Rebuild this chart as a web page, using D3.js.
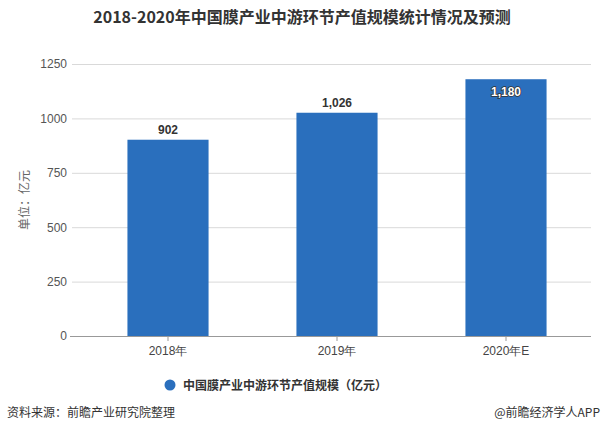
<!DOCTYPE html>
<html><head><meta charset="utf-8">
<script src="https://cdn.jsdelivr.net/npm/d3@7/dist/d3.min.js"></script>
<style>body{margin:0;background:#fff;}svg{display:block;font-family:"Microsoft YaHei","Noto Sans CJK SC",sans-serif;}</style>
</head><body>
<svg id="c" width="605" height="440"></svg>
<script>
const categories = ["2018年", "2019年", "2020年E"];
const values = [902, 1026, 1180];
const valueLabels = ["902", "1,026", "1,180"];
const yTicks = [0, 250, 500, 750, 1000, 1250];
const seriesName = "中国膜产业中游环节产值规模（亿元）";

const svg = d3.select("#c");
const color = "#2a6fbd";
const y = d3.scaleLinear().domain([0, 1250]).range([336, 64]);
const x = d3.scaleBand().domain(categories).range([83.5, 590.5]).paddingInner(0.52).paddingOuter(0.26);

svg.append("text").attr("x", 302).attr("y", 23).attr("text-anchor", "middle")
  .attr("font-size", 16).attr("font-weight", "bold").attr("fill", "#333")
  .text("2018-2020年中国膜产业中游环节产值规模统计情况及预测");

// grid
const gAxisY = svg.append("g").attr("transform", "translate(72,0)")
  .call(d3.axisLeft(y).tickValues(yTicks).tickSize(-519).tickPadding(5).tickFormat(d3.format("d")));
gAxisY.select(".domain").remove();
gAxisY.selectAll(".tick line").attr("stroke", "#d9d9d9");
gAxisY.selectAll(".tick text").attr("fill", "#555").attr("font-size", 12).attr("font-family", "Liberation Sans, Arial, sans-serif");

svg.append("text").attr("transform", "translate(29,200) rotate(-90)").attr("text-anchor", "middle")
  .attr("font-size", 12).attr("fill", "#666").text("单位：亿元");

// bars
svg.selectAll("rect.bar").data(values).enter().append("rect").attr("class", "bar")
  .attr("x", (d, i) => x(categories[i])).attr("width", x.bandwidth())
  .attr("y", d => y(d)).attr("height", d => y(0) - y(d)).attr("fill", color);

// x axis
const gx = svg.append("g").attr("transform", "translate(0,336)")
  .call(d3.axisBottom(x).tickSize(5).tickPadding(5));
gx.select(".domain").attr("d", "M70,0.5H591").attr("stroke", "#999");
gx.selectAll(".tick line").attr("stroke", "#999");
gx.selectAll(".tick text").attr("fill", "#444").attr("font-size", 12);

// labels
svg.selectAll("text.val").data(values).enter().append("text").attr("class", "val")
  .attr("x", (d, i) => x(categories[i]) + x.bandwidth() / 2)
  .attr("y", (d, i) => i === 2 ? y(d) + 17 : y(d) - 6)
  .attr("text-anchor", "middle").attr("font-size", 12).attr("font-weight", "bold")
  .attr("font-family", "Liberation Sans, Arial, sans-serif")
  .attr("fill", (d, i) => i === 2 ? "#fff" : "#333")
  .attr("stroke", (d, i) => i === 2 ? "#333" : "none").attr("stroke-width", 1.5)
  .attr("paint-order", "stroke")
  .text((d, i) => valueLabels[i]);

// legend
svg.append("circle").attr("cx", 170).attr("cy", 385).attr("r", 5.5).attr("fill", color);
svg.append("text").attr("x", 183).attr("y", 389.5).attr("font-size", 12).attr("font-weight", "bold")
  .attr("fill", "#333").text(seriesName);

// footer
svg.append("text").attr("x", 7).attr("y", 417).attr("font-size", 12).attr("fill", "#333").text("资料来源：前瞻产业研究院整理");
svg.append("text").attr("x", 600).attr("y", 417).attr("text-anchor", "end").attr("font-size", 12).attr("fill", "#333").text("@前瞻经济学人APP");
</script>
</body></html>
